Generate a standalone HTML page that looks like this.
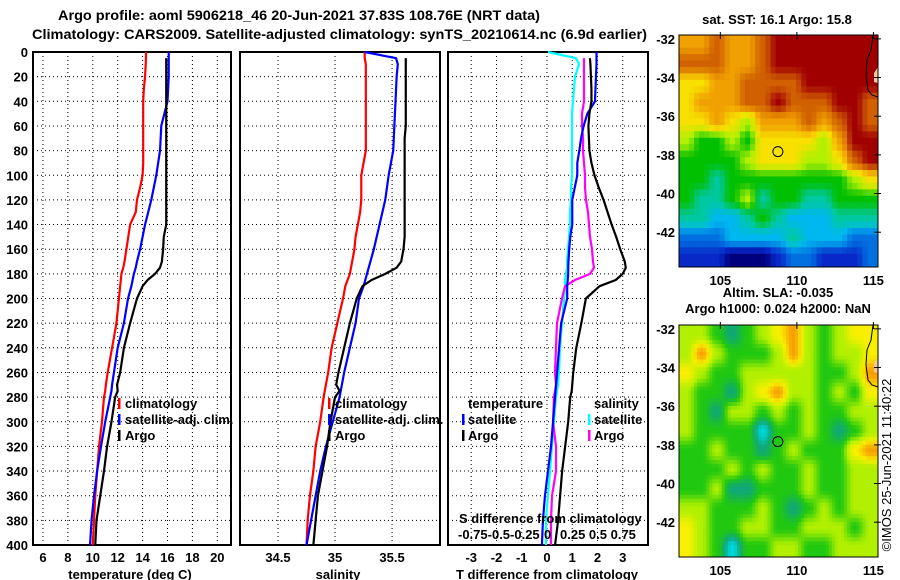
<!DOCTYPE html>
<html><head><meta charset="utf-8"><style>
html,body{margin:0;padding:0;background:#fff;}
svg{display:block;font-family:"Liberation Sans",sans-serif;font-weight:bold;}
</style></head><body>
<svg id="fig" width="900" height="580" viewBox="0 0 900 580" xmlns="http://www.w3.org/2000/svg">
<defs>
<clipPath id="clipSst"><rect x="679" y="35" width="199" height="232"/></clipPath>
<clipPath id="clipSla"><rect x="679" y="325" width="199" height="232"/></clipPath>
</defs>
<text x="58" y="20" font-size="14" textLength="482" lengthAdjust="spacingAndGlyphs">Argo profile: aoml 5906218_46 20-Jun-2021 37.83S 108.76E (NRT data)</text>
<text x="32" y="39" font-size="14" textLength="615" lengthAdjust="spacingAndGlyphs">Climatology: CARS2009. Satellite-adjusted climatology: synTS_20210614.nc (6.9d earlier)</text>
<g id="g"></g>
</svg>
<script>
// depth levels (m)
const depths = [0,5,10,20,30,40,50,60,70,80,90,100,110,120,130,140,150,160,170,175,180,185,190,200,220,240,260,270,275,280,300,320,340,360,380,400];
// Temperature (deg C)
const tempClim = [14.28,14.27,14.25,14.2,14.1,14.05,14.05,14.05,14.05,14.05,14.05,14.0,13.8,13.55,13.45,13.0,12.85,12.7,12.55,12.45,12.3,12.25,12.2,12.1,11.9,11.55,11.2,11.05,11.0,10.9,10.74,10.5,10.35,10.2,10.1,10.0];
const tempSat  = [16.1,16.1,16.1,16.1,16.05,16.0,15.75,15.5,15.45,15.4,15.25,15.1,14.9,14.7,14.45,14.2,14.0,13.8,13.55,13.45,13.3,13.2,13.1,12.83,12.5,12.0,11.7,11.55,11.5,11.4,11.0,10.66,10.35,10.1,9.9,9.78];
const tempArgo = [null,15.9,15.9,15.9,15.9,15.9,15.9,15.9,15.9,15.9,15.9,15.9,15.9,15.9,15.9,15.9,15.7,15.65,15.55,15.4,15.0,14.4,14.0,13.55,13.0,12.5,12.2,11.95,12.0,11.8,11.5,11.15,10.9,10.6,10.3,10.2];
// Salinity
const salClim = [35.26,35.26,35.27,35.27,35.27,35.27,35.27,35.27,35.27,35.27,35.25,35.23,35.23,35.23,35.22,35.2,35.18,35.17,35.15,35.14,35.13,35.11,35.09,35.07,35.02,34.97,34.94,34.92,34.91,34.9,34.87,34.83,34.81,34.78,34.76,34.75];
const salSat  = [35.26,35.535,35.55,35.54,35.535,35.53,35.525,35.52,35.515,35.51,35.49,35.47,35.455,35.44,35.415,35.39,35.365,35.34,35.31,35.295,35.28,35.265,35.25,35.21,35.18,35.13,35.08,35.06,35.05,35.04,34.98,34.92,34.87,34.83,34.79,34.75];
const salArgo = [null,35.62,35.62,35.62,35.62,35.62,35.62,35.62,35.61,35.61,35.61,35.61,35.61,35.61,35.61,35.61,35.61,35.6,35.58,35.54,35.44,35.32,35.24,35.19,35.13,35.08,35.03,35.01,35.04,35.0,34.96,34.93,34.89,34.85,34.83,34.81];
// Differences from climatology
const tDiffSat  = [1.96,1.96,1.96,1.94,1.92,1.9,1.6,1.45,1.35,1.28,1.2,1.2,1.1,1.0,1.0,1.0,0.92,0.88,0.85,0.84,0.84,0.82,0.8,0.8,0.56,0.48,0.4,0.36,0.34,0.32,0.24,0.16,0.04,-0.08,-0.16,-0.2];
const tDiffArgo = [null,1.7,1.72,1.74,1.76,1.76,1.68,1.64,1.66,1.68,1.76,1.88,2.05,2.24,2.4,2.56,2.74,2.9,3.08,3.12,3.0,2.72,2.08,1.54,1.36,1.16,1.04,1.0,0.98,0.92,0.84,0.72,0.6,0.52,0.44,0.32];
const sDiffSat  = [0.0,0.28,0.31,0.27,0.26,0.25,0.24,0.24,0.24,0.24,0.24,0.24,0.23,0.23,0.22,0.22,0.21,0.2,0.19,0.19,0.18,0.17,0.17,0.16,0.14,0.12,0.11,0.1,0.09,0.08,0.06,0.04,0.02,0.0,-0.02,-0.02];
const sDiffArgo = [null,0.36,0.36,0.36,0.36,0.36,0.34,0.34,0.35,0.35,0.36,0.37,0.37,0.38,0.4,0.41,0.42,0.44,0.45,0.46,0.42,0.27,0.17,0.14,0.09,0.08,0.07,0.08,0.07,0.06,0.05,0.08,0.08,0.04,0.03,0.03];
// axis ticks
const depthTicks = [0,20,40,60,80,100,120,140,160,180,200,220,240,260,280,300,320,340,360,380,400];
const tempTicks = [6,8,10,12,14,16,18,20];
const salTicks = [34.5,35,35.5];
const tDiffTicks = [-3,-2,-1,0,1,2,3];
const lonTicks = [105,110,115];
const latTicks = [-32,-34,-36,-38,-40,-42];
// SST grid (colour index 0..10), rows north->south, cols west->east
const sstGrid = [
[8,8,9,8,8,9,10,10,10,10,10,10,10],
[9,9,9,8,8,9,10,10,10,10,10,10,10],
[7,7,8,8,9,9,9,9,10,10,10,10,10],
[7,8,8,8,9,9,10,9,9,9,10,10,9],
[7,7,8,7,6,8,8,8,9,8,9,10,9],
[6,5,5,6,5,7,7,7,7,6,8,10,10],
[5,5,5,5,6,7,7,7,6,6,7,9,10],
[5,5,4,5,5,5,5,5,5,5,5,6,7],
[5,4,4,5,6,4,5,5,4,4,5,5,5],
[4,4,3,3,4,5,4,3,3,3,4,4,4],
[2,2,2,3,3,3,3,4,3,3,3,2,2],
[1,1,1,0,0,0,1,2,2,1,1,1,2]];
// SLA grid
const slaGrid = [
[6,6,5,4,5,6,7,8,6,5,6,7,7],
[6,8,6,5,5,5,6,8,6,5,6,6,7],
[7,6,5,5,6,6,6,6,6,5,5,6,8],
[6,5,5,4,6,7,8,6,6,5,6,5,7],
[6,5,4,6,6,5,6,5,6,5,5,6,6],
[6,5,5,5,5,3,5,5,6,5,4,5,6],
[5,5,6,5,5,4,5,6,5,5,5,7,8],
[5,5,5,6,5,6,5,5,6,5,5,6,6],
[5,5,6,4,4,5,5,5,6,5,5,6,6],
[6,6,5,5,5,6,5,4,5,6,5,6,6],
[7,6,5,5,6,6,5,5,6,6,6,5,6],
[7,6,5,3,5,5,6,6,5,5,6,6,6]];
const argoLon = [108.76];
const argoLat = [-37.83];

const NS='http://www.w3.org/2000/svg';
const G=document.getElementById('g');
function mk(tag,attrs,parent){const e=document.createElementNS(NS,tag);for(const k in attrs)e.setAttribute(k,attrs[k]);(parent||G).appendChild(e);return e;}
const Y0=52,Y1=545;
function yD(d){return Y0+(d/400)*(Y1-Y0);}
function lin(d0,d1,r0,r1){return v=>r0+(v-d0)/(d1-d0)*(r1-r0);}
const xT=lin(5.2,21.1,33,231);
const xS=lin(34.167,35.92,240,440);
const xTD=lin(-3.92,4.0,448,648);
const xSD=v=>548+v*100;

function panel(name,x0,x1,xs,ticks,fmt,labelY){
  const g=mk('g',{});
  
  
  ticks.forEach(t=>{const l=mk('line',{x1:xs(t),x2:xs(t),y1:Y0,y2:Y1,stroke:'#000','stroke-width':1,'stroke-dasharray':'1 3'},g);
    
    if(fmt){const tx=mk('text',{x:xs(t),y:labelY,'font-size':13,'text-anchor':'middle'},g);tx.textContent=fmt(t);
    }});
  depthTicks.forEach(d=>{if(d>0&&d<400){const l=mk('line',{x1:x0,x2:x1,y1:yD(d),y2:yD(d),stroke:'#000','stroke-width':1,'stroke-dasharray':'1 3'},g);
    }});
  const r=mk('rect',{x:x0,y:Y0,width:x1-x0,height:Y1-Y0,fill:'none',stroke:'#000','stroke-width':2},g);
  
  return g;
}
function line(name,xs,arr,color){
  let pts=[];
  arr.forEach((v,i)=>{if(v==null)return;pts.push(xs(v)+','+yD(depths[i]));});
  const p=mk('polyline',{points:pts.join(' '),fill:'none',stroke:color,'stroke-width':2.2,'stroke-linejoin':'round'});
  
}
function text(name,x,y,s,size,anchor,extra){const t=mk('text',Object.assign({x:x,y:y,'font-size':size||13,'text-anchor':anchor||'start'},extra||{}));t.textContent=s;
  return t;}
function bar(name,x,y,color){const r=mk('rect',{x:x,y:y-10,width:2.5,height:11,fill:color});}

depthTicks.forEach(d=>{text('y-tick-label',28,yD(d)+5,String(d),13,'end');});

panel('temperature-panel',33,231,xT,tempTicks,t=>String(t),562);
panel('salinity-panel',240,440,xS,salTicks,t=>String(t),562);
panel('difference-panel',448,648,xTD,tDiffTicks,t=>String(t),562);

line('temp-climatology-line',xT,tempClim,'#f00');
line('temp-satellite-line',xT,tempSat,'#00f');
line('temp-argo-line',xT,tempArgo,'#000');
line('sal-climatology-line',xS,salClim,'#f00');
line('sal-satellite-line',xS,salSat,'#00f');
line('sal-argo-line',xS,salArgo,'#000');
line('sdiff-satellite-line',xSD,sDiffSat,'#0ff');
line('sdiff-argo-line',xSD,sDiffArgo,'#f0f');
line('tdiff-satellite-line',xTD,tDiffSat,'#00f');
line('tdiff-argo-line',xTD,tDiffArgo,'#000');

text('x-axis-title-temperature',130,579,'temperature (deg C)',13,'middle');
text('x-axis-title-salinity',338,579,'salinity',13,'middle');
text('x-axis-title-tdiff',547,579,'T difference from climatology',13,'middle');

[['climatology','#f00'],['satellite-adj. clim.','#00f'],['Argo','#000']].forEach((e,i)=>{
  bar('legend-marker',118,408+i*16,e[1]);text('legend-entry',125,408+i*16,e[0]);
  bar('legend-marker',328,408+i*16,e[1]);text('legend-entry',335,408+i*16,e[0]);
});
text('legend-title-temperature',468,408,'temperature');
text('legend-title-salinity',594,408,'salinity');
bar('legend-marker',462,424,'#00f');text('legend-entry',468,424,'satellite');
bar('legend-marker',462,440,'#000');text('legend-entry',468,440,'Argo');
bar('legend-marker',588,424,'#0ff');text('legend-entry',594,424,'satellite');
bar('legend-marker',588,440,'#f0f');text('legend-entry',594,440,'Argo');
text('s-axis-title',459,523,'S difference from climatology');
text('s-tick-labels-neg',458,539,'-0.75-0.5-0.25');
text('s-tick-label-zero',544,539,'0');
text('s-tick-labels-pos',560,539,'0.25 0.5 0.75');

const sstCols=[[0,0,127],[8,40,200],[0,112,224],[0,184,240],[0,200,160],[0,192,0],[176,240,0],[248,224,0],[240,160,0],[208,96,0],[160,0,0]];
const slaCols=[[0,0,127],[8,40,200],[0,112,224],[0,216,224],[16,168,120],[32,200,16],[176,240,0],[248,240,0],[248,160,0],[208,96,0],[160,0,0]];
function cmap(cols,v){v=Math.max(0,Math.min(cols.length-1,v));const i=Math.min(cols.length-2,Math.floor(v)),f=v-i;
  const a=cols[i],b=cols[i+1];return 'rgb('+a.map((c,k)=>Math.round(c+(b[k]-c)*f)).join(',')+')';}
function sample(grid,fx,fy){const nr=grid.length,nc=grid[0].length;
  fx=Math.max(0,Math.min(nc-1,fx));fy=Math.max(0,Math.min(nr-1,fy));
  const x0=Math.min(nc-2,Math.floor(fx)),y0=Math.min(nr-2,Math.floor(fy));const tx=fx-x0,ty=fy-y0;
  const sx=t=>t*t*(3-2*t);const ax=sx(tx),ay=sx(ty);
  const top=grid[y0][x0]*(1-ax)+grid[y0][x0+1]*ax,bot=grid[y0+1][x0]*(1-ax)+grid[y0+1][x0+1]*ax;
  return top*(1-ay)+bot*ay;}
const MX0=679,MX1=878;
const lonX=lin(102.3,115.3,MX0,MX1);
function mapPanel(name,top,grid,cols,sub,clip){
  const latY=lin(-31.8,-43.8,top,top+232);
  const g=mk('g',{'clip-path':'url(#'+clip+')'});
  
  const nr=grid.length,nc=grid[0].length;
  const cw=(MX1-MX0)/nc/sub,ch=232/nr/sub;
  for(let r=0;r<nr*sub;r++)for(let c=0;c<nc*sub;c++){
    const v=sample(grid,(c+0.5)/sub-0.5,(r+0.5)/sub-0.5);
    const rc=mk('rect',{x:MX0+c*cw-0.3,y:top+r*ch-0.3,width:cw+0.6,height:ch+0.6,fill:cmap(cols,v)},g);
    }
  const land=mk('path',{d:`M878,${top+32} L874,${top+38} L874,${top+47} L878,${top+48} Z`,fill:'#f8c89a'},g);
  
  const coast=mk('path',{d:`M873,${top} L871,${top+15} L867,${top+25} L866,${top+40} L868,${top+55} L872,${top+60} L878,${top+62}`,fill:'none',stroke:'#000','stroke-width':1},g);
  
  const fr=mk('rect',{x:MX0,y:top,width:MX1-MX0,height:232,fill:'none',stroke:'#000','stroke-width':1});
  
  latTicks.forEach(l=>{text('map-lat-label',675,latY(l)+5,String(l),13,'end');
    const t=mk('line',{x1:MX1-4,x2:MX1+3,y1:latY(l),y2:latY(l),stroke:'#000'});});
  lonTicks.forEach(l=>{text('map-lon-label',lonX(l),top+250,String(l),13,'middle');
    const t=mk('line',{x1:lonX(l),x2:lonX(l),y1:top-3,y2:top+4,stroke:'#000'});});
  argoLon.forEach((lo,i)=>{const c=mk('circle',{cx:lonX(lo),cy:latY(argoLat[i]),r:5,fill:'none',stroke:'#000','stroke-width':1});
    });
}
mapPanel('sst-map',35,sstGrid,sstCols,3,'clipSst');
mapPanel('sla-map',325,slaGrid,slaCols,5,'clipSla');
text('sst-map-title',777,24,'sat. SST: 16.1 Argo: 15.8',13,'middle');
text('sla-map-title-1',778,297,'Altim. SLA: -0.035',13,'middle');
text('sla-map-title-2',778,313,'Argo h1000: 0.024 h2000: NaN',13,'middle');
text('imos-stamp',0,0,'©IMOS 25-Jun-2021 11:40:22',13,'middle',{transform:'translate(891,465) rotate(-90)','font-weight':'normal'});
</script>
</body></html>
